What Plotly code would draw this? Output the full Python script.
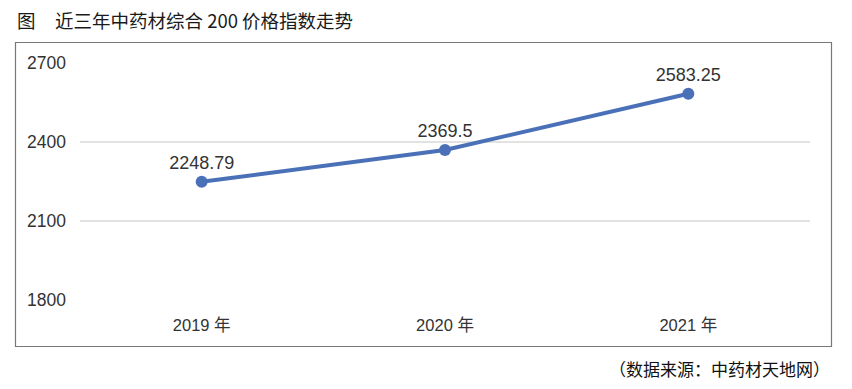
import plotly.graph_objects as go

categories = ["2019 年", "2020 年", "2021 年"]
values = [2248.79, 2369.5, 2583.25]
value_labels = ["2248.79", "2369.5", "2583.25"]
y_ticks = [1800, 2100, 2400, 2700]

FONT = "Liberation Sans, Noto Sans CJK SC, sans-serif"
CJK = "Noto Sans CJK SC, sans-serif"

# page body has an 8px margin; figure coordinates are page coordinates minus 8
OFF = 8
W, H = 852 - 2 * OFF, 389 - 2 * OFF
L = 80 - OFF
T = 63 - OFF
R = W - (810 - OFF)
B = H - (300 - OFF)
pw, ph = W - L - R, H - T - B

def px(x):
    return (x - OFF - L) / pw

def py(y):
    return (H - B - (y - OFF)) / ph

fig = go.Figure()
fig.add_trace(go.Scatter(
    x=categories, y=values, mode="lines+markers+text",
    text=value_labels, textposition="top center",
    textfont=dict(size=18, color="#333333", family=FONT),
    line=dict(color="#4a71b7", width=4),
    marker=dict(color="#4a71b7", size=12),
    cliponaxis=False, showlegend=False,
))

fig.add_shape(type="rect", xref="paper", yref="paper",
              x0=px(15.5), x1=px(831.5), y0=py(346.5), y1=py(42.5),
              line=dict(color="#777777", width=1.2), fillcolor="rgba(0,0,0,0)", layer="below")

fig.add_annotation(xref="paper", yref="paper", x=px(15), y=py(20),
                   xanchor="left", yanchor="middle", showarrow=False,
                   text="图", font=dict(size=18.5, color="#1a1a1a", family=CJK))
fig.add_annotation(xref="paper", yref="paper", x=px(53), y=py(20),
                   xanchor="left", yanchor="middle", showarrow=False,
                   text="近三年中药材综合 200 价格指数走势",
                   font=dict(size=18.5, color="#1a1a1a", family=CJK))
fig.add_annotation(xref="paper", yref="paper", x=px(832), y=py(368),
                   xanchor="right", yanchor="middle", showarrow=False,
                   text="（数据来源：中药材天地网）",
                   font=dict(size=17, color="#111111", family=CJK))

fig.update_layout(
    width=W, height=H,
    margin=dict(l=L, r=R, t=T, b=B, autoexpand=False),
    paper_bgcolor="white", plot_bgcolor="white",
    font=dict(family=FONT, color="#333333", size=16),
    xaxis=dict(range=[-0.5, 2.5], showgrid=False, showline=False, zeroline=False, ticks="",
               automargin=False,
               tickfont=dict(size=16.5, color="#333333"), ticklabelstandoff=13),
    yaxis=dict(range=[1800, 2700], tickvals=y_ticks, showgrid=True, automargin=False,
               gridcolor="#e2e2e2", gridwidth=1.5, zeroline=False, showline=False,
               ticks="", tickfont=dict(size=17.5, color="#333333"), ticklabelstandoff=13),
)

fig.write_html("out.html")
